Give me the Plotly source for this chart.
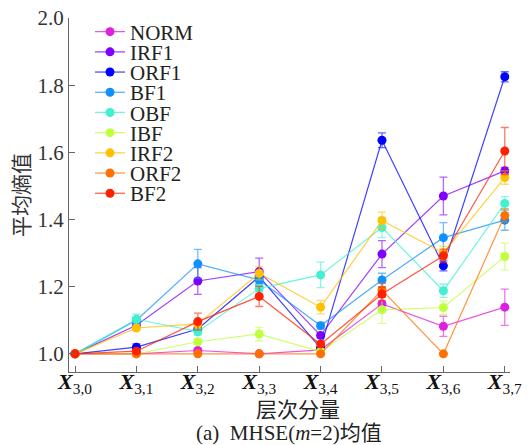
import plotly.graph_objects as go

categories = ["X3,0", "X3,1", "X3,2", "X3,3", "X3,4", "X3,5", "X3,6", "X3,7"]
tick_labels = ["<b><i>X</i></b><sub>3,%s</sub>" % i for i in range(8)]

series_names = ["NORM", "IRF1", "ORF1", "BF1", "OBF", "IBF", "IRF2", "ORF2", "BF2"]

NORM = [1.0, 1.0, 1.010, 1.0, 1.012, 1.149, 1.082, 1.139]
IRF1 = [1.0, 1.085, 1.217, 1.245, 1.055, 1.297, 1.470, 1.545]
ORF1 = [1.0, 1.020, 1.074, 1.230, 1.017, 1.636, 1.262, 1.825]
BF1 = [1.0, 1.100, 1.268, 1.220, 1.084, 1.220, 1.346, 1.398]
OBF = [1.0, 1.103, 1.066, 1.195, 1.235, 1.376, 1.188, 1.448]
IBF = [1.0, 1.0, 1.036, 1.059, 1.007, 1.131, 1.138, 1.290]
IRF2 = [1.0, 1.077, 1.089, 1.240, 1.139, 1.397, 1.300, 1.525]
ORF2 = [1.0, 1.0, 1.0, 1.0, 1.0, 1.190, 1.0, 1.412]
BF2 = [1.0, 1.008, 1.096, 1.171, 1.029, 1.178, 1.292, 1.604]

NORM_err = [0, 0.003, 0.005, 0.004, 0.005, 0.020, 0.030, 0.054]
IRF1_err = [0, 0.006, 0.040, 0.040, 0.008, 0.040, 0.056, 0.010]
ORF1_err = [0, 0.010, 0.010, 0.010, 0.005, 0.022, 0.015, 0.015]
BF1_err = [0, 0.010, 0.043, 0.010, 0.010, 0.020, 0.045, 0.030]
OBF_err = [0, 0.015, 0.010, 0.010, 0.038, 0.030, 0.020, 0.020]
IBF_err = [0, 0.003, 0.008, 0.020, 0.005, 0.040, 0.020, 0.040]
IRF2_err = [0, 0.006, 0.010, 0.020, 0.020, 0.025, 0.020, 0.020]
ORF2_err = [0, 0.002, 0.002, 0.002, 0.002, 0.020, 0.002, 0.020]
BF2_err = [0, 0.005, 0.025, 0.030, 0.008, 0.020, 0.020, 0.070]

values = [NORM, IRF1, ORF1, BF1, OBF, IBF, IRF2, ORF2, BF2]
errors = [NORM_err, IRF1_err, ORF1_err, BF1_err, OBF_err, IBF_err, IRF2_err, ORF2_err, BF2_err]
colors = [(224, 30, 224), (128, 0, 255), (0, 0, 255), (16, 144, 255), (64, 240, 208),
          (192, 255, 64), (255, 192, 0), (255, 112, 0), (255, 32, 0)]

FONT = "Liberation Serif, Times New Roman, Noto Sans CJK SC, serif"
W, H = 531, 445
L, R, T, B = 69, 21, 18, 73
plot_h = H - T - B

fig = go.Figure()
xs = list(range(len(categories)))
for k, (name, vals, err, c) in enumerate(zip(series_names, values, errors, colors)):
    rgb = "rgb(%d,%d,%d)" % c
    rgba_line = "rgba(%d,%d,%d,0.75)" % c
    rgba_err = "rgba(%d,%d,%d,0.6)" % c
    lg = "legend" if k == 0 else "legend%d" % (k + 1)
    fig.add_trace(go.Scatter(
        x=xs, y=vals, name=name, mode="lines+markers",
        line=dict(color=rgba_line, width=1.2),
        marker=dict(color=rgb, size=9),
        error_y=dict(type="data", array=err, visible=True, color=rgba_err,
                     thickness=1.3, width=4),
        legend=lg,
    ))

layout_legends = {}
for k in range(len(series_names)):
    lg = "legend" if k == 0 else "legend%d" % (k + 1)
    py = 32 + 20.2 * k
    layout_legends[lg] = dict(
        x=(90 - L) / (W - L - R), xanchor="left",
        y=(H - B - py) / plot_h, yanchor="middle",
        bgcolor="rgba(0,0,0,0)", borderwidth=0,
        font=dict(family=FONT, size=21, color="#222"),
    )

fig.update_layout(
    width=W, height=H,
    margin=dict(l=L, r=R, t=T, b=B, autoexpand=False),
    paper_bgcolor="white", plot_bgcolor="white",
    font=dict(family=FONT, size=21, color="#222"),
    showlegend=True,
    xaxis=dict(
        range=[-0.098, 7.085], tickmode="array", tickvals=xs, ticktext=tick_labels,
        showgrid=False, zeroline=False, showline=True, linecolor="#666", linewidth=1,
        ticks="inside", ticklen=6, tickcolor="#666", ticklabelstandoff=-10,
        tickfont=dict(family=FONT, size=22, color="#111"),
    ),
    yaxis=dict(
        range=[0.946, 2.0], tickmode="linear", tick0=1.0, dtick=0.2, tickformat=".1f",
        showgrid=False, zeroline=False, showline=True, linecolor="#666", linewidth=1,
        ticks="inside", ticklen=6, tickcolor="#666",
        tickfont=dict(family=FONT, size=21, color="#333"),
        title=dict(text="平均熵值", font=dict(family=FONT, size=21, color="#333"), standoff=2),
    ),
    annotations=[
        dict(text="层次分量", xref="paper", yref="paper",
             x=(298 - L) / (W - L - R), y=(H - B - 410) / plot_h,
             xanchor="center", yanchor="middle", showarrow=False,
             font=dict(family=FONT, size=21, color="#222")),
        dict(text="(a)  MHSE(<i>m</i>=2)均值", xref="paper", yref="paper",
             x=(289 - L) / (W - L - R), y=(H - B - 433) / plot_h,
             xanchor="center", yanchor="middle", showarrow=False,
             font=dict(family=FONT, size=21, color="#222")),
    ],
    **layout_legends,
)

fig.write_html("out.html")
